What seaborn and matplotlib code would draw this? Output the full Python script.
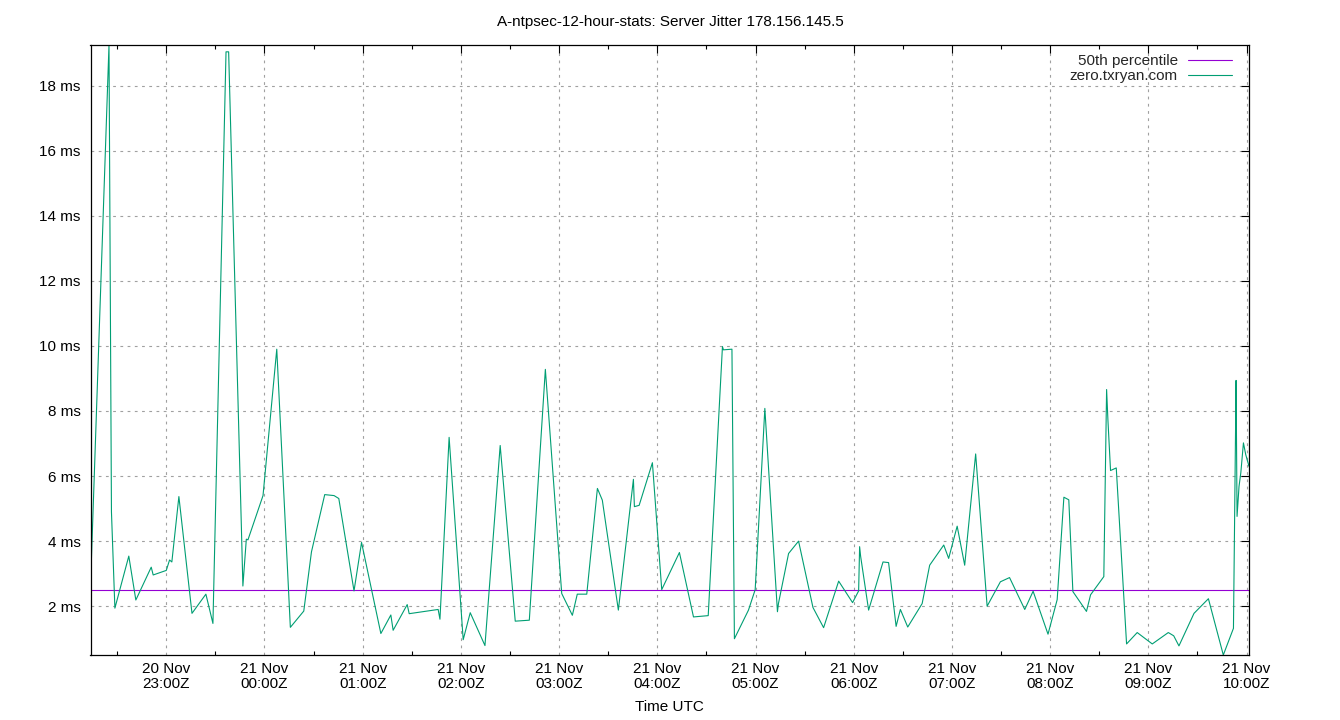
import matplotlib
matplotlib.use("Agg")
import matplotlib.pyplot as plt
import matplotlib.dates as mdates
import seaborn as sns
import pandas as pd

TITLE = "A-ntpsec-12-hour-stats: Server Jitter 178.156.145.5"
X_LABEL = "Time UTC"
SERIES_NAME = "zero.txryan.com"
P50_NAME = "50th percentile"
P50_MS = 2.5
Y_TICKS = [2, 4, 6, 8, 10, 12, 14, 16, 18]
X_TICK_START = "2025-11-20 23:00"
X_TICK_END = "2025-11-21 10:00"

times = [
    "2025-11-20 22:13:42", "2025-11-20 22:25:00", "2025-11-20 22:26:30", "2025-11-20 22:28:36",
    "2025-11-20 22:37:06", "2025-11-20 22:41:24", "2025-11-20 22:50:48", "2025-11-20 22:52:00",
    "2025-11-20 23:00:00", "2025-11-20 23:02:00", "2025-11-20 23:03:24", "2025-11-20 23:07:42",
    "2025-11-20 23:15:42", "2025-11-20 23:24:12", "2025-11-20 23:28:30", "2025-11-20 23:36:30",
    "2025-11-20 23:38:06", "2025-11-20 23:45:54", "2025-11-20 23:46:48", "2025-11-20 23:48:54",
    "2025-11-20 23:49:54", "2025-11-20 23:59:06", "2025-11-21 00:07:30", "2025-11-21 00:15:48",
    "2025-11-21 00:24:00", "2025-11-21 00:28:42", "2025-11-21 00:36:48", "2025-11-21 00:42:30",
    "2025-11-21 00:45:24", "2025-11-21 00:54:42", "2025-11-21 00:59:18", "2025-11-21 01:11:06",
    "2025-11-21 01:17:12", "2025-11-21 01:18:36", "2025-11-21 01:27:12", "2025-11-21 01:28:24",
    "2025-11-21 01:46:06", "2025-11-21 01:47:12", "2025-11-21 01:52:48", "2025-11-21 02:01:24",
    "2025-11-21 02:05:42", "2025-11-21 02:14:42", "2025-11-21 02:24:00", "2025-11-21 02:33:12",
    "2025-11-21 02:41:48", "2025-11-21 02:51:36", "2025-11-21 03:01:36", "2025-11-21 03:08:06",
    "2025-11-21 03:11:06", "2025-11-21 03:16:54", "2025-11-21 03:23:24", "2025-11-21 03:26:24",
    "2025-11-21 03:36:12", "2025-11-21 03:45:24", "2025-11-21 03:46:00", "2025-11-21 03:48:54",
    "2025-11-21 03:57:00", "2025-11-21 04:02:42", "2025-11-21 04:13:30", "2025-11-21 04:22:06",
    "2025-11-21 04:31:06", "2025-11-21 04:39:48", "2025-11-21 04:40:24", "2025-11-21 04:45:36",
    "2025-11-21 04:47:06", "2025-11-21 04:55:42", "2025-11-21 04:59:48", "2025-11-21 05:05:42",
    "2025-11-21 05:13:24", "2025-11-21 05:14:00", "2025-11-21 05:20:12", "2025-11-21 05:26:18",
    "2025-11-21 05:35:06", "2025-11-21 05:41:36", "2025-11-21 05:50:48", "2025-11-21 05:59:18",
    "2025-11-21 06:03:00", "2025-11-21 06:03:36", "2025-11-21 06:04:12", "2025-11-21 06:09:06",
    "2025-11-21 06:17:54", "2025-11-21 06:21:18", "2025-11-21 06:25:54", "2025-11-21 06:28:30",
    "2025-11-21 06:33:00", "2025-11-21 06:41:48", "2025-11-21 06:46:24", "2025-11-21 06:55:00",
    "2025-11-21 06:58:00", "2025-11-21 07:03:12", "2025-11-21 07:07:48", "2025-11-21 07:14:30",
    "2025-11-21 07:21:30", "2025-11-21 07:29:36", "2025-11-21 07:35:12", "2025-11-21 07:44:30",
    "2025-11-21 07:49:36", "2025-11-21 07:58:42", "2025-11-21 08:04:18", "2025-11-21 08:08:24",
    "2025-11-21 08:11:24", "2025-11-21 08:13:54", "2025-11-21 08:22:12", "2025-11-21 08:24:42",
    "2025-11-21 08:32:48", "2025-11-21 08:34:30", "2025-11-21 08:35:18", "2025-11-21 08:36:54",
    "2025-11-21 08:40:24", "2025-11-21 08:46:42", "2025-11-21 08:53:12", "2025-11-21 09:02:24",
    "2025-11-21 09:12:12", "2025-11-21 09:15:30", "2025-11-21 09:18:42", "2025-11-21 09:27:54",
    "2025-11-21 09:36:42", "2025-11-21 09:45:48", "2025-11-21 09:52:00", "2025-11-21 09:53:12",
    "2025-11-21 09:53:36", "2025-11-21 09:54:12", "2025-11-21 09:55:24", "2025-11-21 09:56:30",
    "2025-11-21 09:58:06", "2025-11-21 09:59:30", "2025-11-21 10:01:30",
]

jitter_ms = [
    2.62, 19.25, 4.9, 1.94,
    3.54, 2.19, 3.2, 2.96,
    3.1, 3.42, 3.36, 5.37,
    1.78, 2.37, 1.47, 19.04,
    19.04, 4.4, 2.62, 4.06,
    4.04, 5.4, 9.9, 1.35,
    1.85, 3.67, 5.43, 5.4,
    5.31, 2.47, 3.96, 1.16,
    1.73, 1.26, 2.05, 1.77,
    1.9, 1.6, 7.19, 0.97,
    1.8, 0.79, 6.94, 1.54,
    1.57, 9.28, 2.39, 1.72,
    2.37, 2.37, 5.62, 5.26,
    1.88, 5.9, 5.06, 5.1,
    6.41, 2.51, 3.65, 1.67,
    1.71, 9.98, 9.88, 9.9,
    1.0, 1.88, 2.51, 8.08,
    1.83, 2.08, 3.62, 4.0,
    1.96, 1.34, 2.77, 2.11,
    2.47, 3.83, 3.54, 1.88,
    3.36, 3.34, 1.38, 1.9,
    1.36, 2.08, 3.26, 3.88,
    3.47, 4.46, 3.26, 6.68,
    2.0, 2.75, 2.88, 1.9,
    2.46, 1.14, 2.2, 5.35,
    5.27, 2.45, 1.84, 2.35,
    2.91, 8.66, 7.73, 6.17,
    6.25, 0.84, 1.19, 0.84,
    1.19, 1.09, 0.78, 1.78,
    2.23, 0.5, 1.32, 7.02,
    8.94, 4.76, 5.68, 6.1,
    7.02, 6.66, 6.3,
]

JITTER_COLOR = "#009e73"
P50_COLOR = "#9400d3"
GRID_COLOR = "#a0a0a0"

sns.set_theme(style="white")
plt.rcParams['font.family'] = ['Liberation Sans', 'DejaVu Sans']

df = pd.DataFrame({"time": pd.to_datetime(times), "jitter": jitter_ms})

W, H = 1340, 720
fig = plt.figure(figsize=(W / 100, H / 100), dpi=100)
L, R, T, B = 90.5, 1249, 45, 655
ax = fig.add_axes([L / W, 1 - B / H, (R - L) / W, (B - T) / H])

ax.axhline(P50_MS, color=P50_COLOR, linewidth=0.8, label=P50_NAME)
sns.lineplot(data=df, x="time", y="jitter", ax=ax, color=JITTER_COLOR,
             linewidth=0.8, label=SERIES_NAME, legend=False)

ax.set_xlim(mdates.date2num(df["time"].min()), mdates.date2num(df["time"].max()))
ax.set_ylim(min(jitter_ms), max(jitter_ms))

major = pd.date_range(X_TICK_START, X_TICK_END, freq="1h")
minor = pd.date_range(pd.Timestamp(X_TICK_START) - pd.Timedelta("30min"),
                      X_TICK_END, freq="1h")
ax.set_xticks(mdates.date2num(major),
              labels=[d.strftime("%d %b\n%H:%MZ") for d in major],
              fontsize=11, linespacing=1.12)
ax.set_xticks(mdates.date2num(minor), minor=True)
ax.set_yticks(Y_TICKS, labels=[f"{v} ms" for v in Y_TICKS], fontsize=11)

ax.tick_params(axis="both", which="major", direction="in", length=6, width=0.8,
               color="black", top=True, right=True, labelcolor="black")
ax.tick_params(axis="x", which="major", pad=5)
ax.tick_params(axis="y", which="major", pad=7)
ax.tick_params(axis="x", which="minor", direction="in", length=3, width=0.8,
               color="black", top=True, bottom=True)

ax.grid(True, which="major", color=GRID_COLOR, linestyle=(0, (2.5, 4)), linewidth=0.8)
ax.set_axisbelow(True)
for s in ax.spines.values():
    s.set_color("black")
    s.set_linewidth(0.9)

ax.set_xlabel(X_LABEL, fontsize=11, labelpad=6, color="black")
ax.set_ylabel("")
fig.text(670 / W, 1 - 22 / H, TITLE, ha="center", va="center", fontsize=11, color="black")

lines = ax.get_lines()
h_p50 = [l for l in lines if l.get_label() == P50_NAME][0]
h_j = [l for l in lines if l.get_label() == SERIES_NAME][0]
ax.legend(handles=[h_p50, h_j], labels=[P50_NAME, SERIES_NAME], loc="upper right",
          bbox_to_anchor=(0.9853, 0.985), markerfirst=False, frameon=False,
          handlelength=2.9, handletextpad=0.65, labelspacing=0.08, borderpad=0,
          borderaxespad=0, fontsize=11)

fig.savefig("out.png", dpi=100)
